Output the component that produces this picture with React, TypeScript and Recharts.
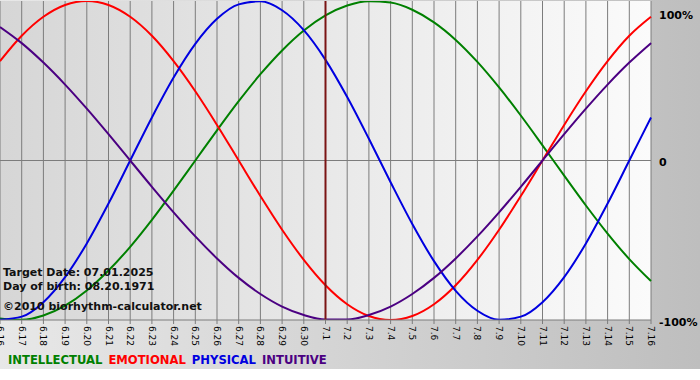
import React from "react";
import { LineChart, Line, XAxis, YAxis, CartesianGrid, ReferenceLine } from "recharts";

const days = [
  "6.16", "6.17", "6.18", "6.19", "6.20", "6.21", "6.22", "6.23", "6.24", "6.25",
  "6.26", "6.27", "6.28", "6.29", "6.30", "7.1", "7.2", "7.3", "7.4", "7.5",
  "7.6", "7.7", "7.8", "7.9", "7.10", "7.11", "7.12", "7.13", "7.14", "7.15", "7.16",
];

const intellectual = [
  -99.0, -99.9, -97.2, -91.0, -81.5, -69.0, -54.1, -37.2, -18.9, 0,
  18.9, 37.2, 54.1, 69.0, 81.5, 91.0, 97.2, 99.9, 99.0, 94.5,
  86.6, 75.6, 61.8, 45.8, 28.2, 9.5, -9.5, -28.2, -45.8, -61.8, -75.6,
];
const emotional = [
  62.3, 78.2, 90.1, 97.5, 100, 97.5, 90.1, 78.2, 62.3, 43.4,
  22.3, 0, -22.3, -43.4, -62.3, -78.2, -90.1, -97.5, -100, -97.5,
  -90.1, -78.2, -62.3, -43.4, -22.3, 0, 22.3, 43.4, 62.3, 78.2, 90.1,
];
const physical = [
  -99.8, -97.9, -88.8, -73.1, -52.0, -27.0, 0, 27.0, 52.0, 73.1,
  88.8, 97.9, 99.8, 94.2, 81.7, 63.1, 39.8, 13.6, -13.6, -39.8,
  -63.1, -81.7, -94.2, -99.8, -97.9, -88.8, -73.1, -52.0, -27.0, 0, 27.0,
];
const intuitive = [
  83.7, 73.6, 61.4, 47.6, 32.5, 16.5, 0, -16.5, -32.5, -47.6,
  -61.4, -73.6, -83.7, -91.6, -96.9, -99.7, -99.7, -96.9, -91.6, -83.7,
  -73.6, -61.4, -47.6, -32.5, -16.5, 0, 16.5, 32.5, 47.6, 61.4, 73.6,
];

const yTicks = [-100, 0, 100];
const yTickLabels: Record<number, string> = { 100: "100%", 0: "0", [-100]: "-100%" };
const targetDay = "7.1";
const infoLines = ["Target Date: 07.01.2025", "Day of birth: 08.20.1971", "\u00A92010 biorhythm-calculator.net"];

const series = [
  { key: "intellectual", name: "INTELLECTUAL", color: "#008000", values: intellectual },
  { key: "emotional", name: "EMOTIONAL", color: "#ff0000", values: emotional },
  { key: "physical", name: "PHYSICAL", color: "#0000e0", values: physical },
  { key: "intuitive", name: "INTUITIVE", color: "#4b0082", values: intuitive },
];

const data = days.map((d, i) => {
  const row: Record<string, string | number> = { day: d };
  series.forEach((s) => (row[s.key] = s.values[i]));
  return row;
});

const FONT = '"DejaVu Sans", Verdana, sans-serif';

const XTick = (props: any) => {
  const { x, y, payload } = props;
  return (
    <text
      x={x}
      y={y}
      transform={`rotate(90, ${x}, ${y})`}
      textAnchor="start"
      dominantBaseline="central"
      fontSize={9}
      fontFamily={FONT}
      fill="#000"
    >
      {payload.value}
    </text>
  );
};

const YTick = (props: any) => {
  const { y, payload } = props;
  const dy = payload.value === 100 ? 10 : payload.value === 0 ? 5 : 6;
  return (
    <text x={659} y={y + dy} textAnchor="start" fontSize={11} fontWeight="bold" fontFamily={FONT} fill="#000">
      {yTickLabels[payload.value]}
    </text>
  );
};

export default function App() {
  return (
    <div
      style={{
        position: "absolute",
        left: 0,
        top: 0,
        width: 700,
        height: 380,
        backgroundColor: "#ffffff",
        backgroundImage: "linear-gradient(to right, #e8e8e8, #bebebe)",
        backgroundSize: "700px 369px",
        backgroundRepeat: "no-repeat",
      }}
    >
      <svg width={0} height={0} style={{ position: "absolute" }}>
        <defs>
          <linearGradient id="plotBg" x1="0" y1="0" x2="1" y2="0">
            <stop offset="0%" stopColor="#d6d6d6" />
            <stop offset="100%" stopColor="#fbfbfb" />
          </linearGradient>
        </defs>
      </svg>
      <LineChart width={700} height={380} data={data} margin={{ top: 1, right: 0, bottom: 30, left: 0 }}>
        <CartesianGrid horizontal={false} vertical stroke="#7c7c7c" strokeDasharray="" fill="url(#plotBg)" fillOpacity={1} />
        <XAxis
          dataKey="day"
          interval={0}
          height={30}
          tick={<XTick />}
          tickSize={4}
          axisLine={{ stroke: "#7c7c7c" }}
          tickLine={{ stroke: "#7c7c7c" }}
        />
        <YAxis
          orientation="right"
          width={49}
          domain={[-100, 100]}
          ticks={yTicks}
          allowDataOverflow
          axisLine={false}
          tickLine={false}
          tick={<YTick />}
        />
        <ReferenceLine y={0} stroke="#7c7c7c" />
        {series.map((s) => (
          <Line
            key={s.key}
            dataKey={s.key}
            type="monotone"
            stroke={s.color}
            strokeWidth={2}
            dot={false}
            activeDot={false}
            isAnimationActive={false}
          />
        ))}
        <ReferenceLine x={targetDay} stroke="#7a1414" strokeWidth={2} />
      </LineChart>
      {infoLines.map((t, i) => (
        <div
          key={i}
          style={{
            position: "absolute",
            left: 3,
            top: [266, 280, 300][i],
            font: `bold 11px ${FONT}`,
            lineHeight: "13px",
            color: "#111",
            whiteSpace: "nowrap",
          }}
        >
          {t}
        </div>
      ))}
      <div style={{ position: "absolute", left: 8, top: 354, font: `bold 11.6px ${FONT}`, lineHeight: "13px", whiteSpace: "nowrap" }}>
        {series.map((s) => (
          <span key={s.key} style={{ color: s.color, marginRight: 6 }}>
            {s.name}
          </span>
        ))}
      </div>
    </div>
  );
}
